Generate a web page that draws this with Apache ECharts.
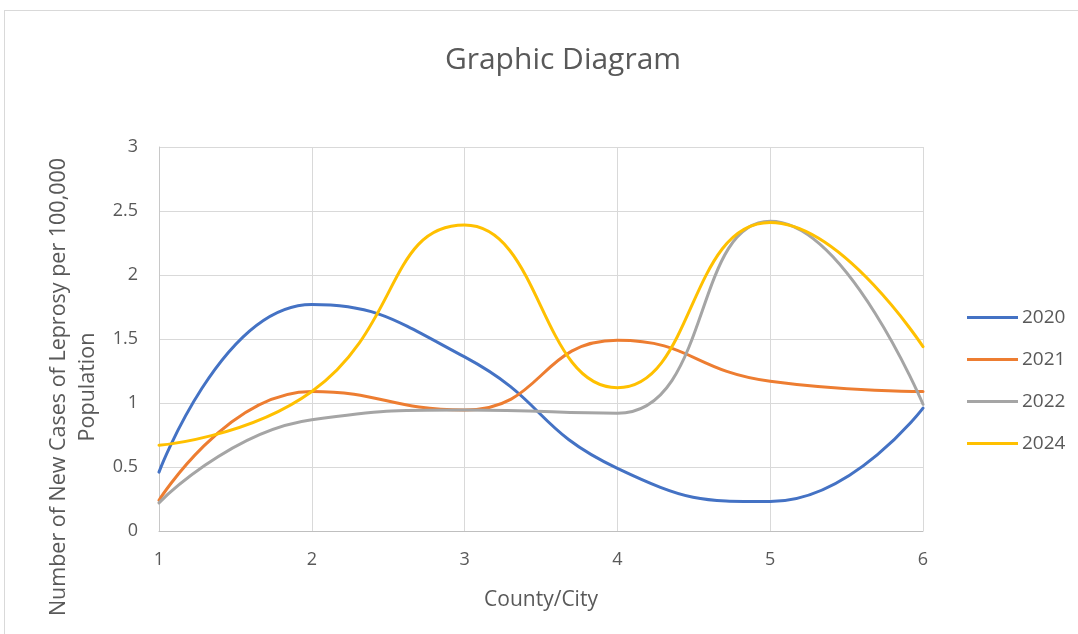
<!DOCTYPE html>
<html>
<head>
<meta charset="utf-8">
<script src="https://cdn.jsdelivr.net/npm/echarts@6/dist/echarts.min.js"></script>
<style>
html,body{margin:0;padding:0;background:#fff;overflow:hidden;}
#frame{position:absolute;left:4px;top:10px;width:1200px;height:800px;border:1px solid #d9d9d9;box-sizing:border-box;}
#chart{position:absolute;left:0;top:0;width:1078px;height:634px;}
</style>
</head>
<body>
<div id="frame"></div>
<div id="chart"></div>
<script>
const categories = ['1', '2', '3', '4', '5', '6'];
const seriesNames = ['2020', '2021', '2022', '2024'];
const s2020 = [0.46, 1.77, 1.36, 0.49, 0.23, 0.96];
const s2021 = [0.24, 1.09, 0.945, 1.49, 1.17, 1.09];
const s2022 = [0.22, 0.87, 0.945, 0.92, 2.42, 0.99];
const s2024 = [0.67, 1.09, 2.39, 1.12, 2.41, 1.44];
const yTicks = [0, 0.5, 1, 1.5, 2, 2.5, 3];
const colors = ['#4472C4', '#ED7D31', '#A5A5A5', '#FFC000'];
const values = [s2020, s2021, s2022, s2024];

const chart = echarts.init(document.getElementById('chart'), null, {renderer: 'canvas'});
const txt = '#595959';
chart.setOption({
  backgroundColor: 'transparent',
  animation: false,
  title: {
    text: 'Graphic Diagram',
    left: 558, top: 40, textAlign: 'center',
    textStyle: {fontFamily: 'Open Sans', fontWeight: 'normal', fontSize: 30, color: txt}
  },
  legend: {
    orient: 'vertical',
    left: 967, top: 308, padding: 0,
    itemWidth: 51, itemHeight: 3, itemGap: 23,
    icon: 'rect',
    textStyle: {fontFamily: 'Open Sans', fontSize: 19, color: txt, padding: [0,0,0,-1]},
    data: seriesNames
  },
  grid: {left: 159, right: 1078 - 923, top: 147, bottom: 634 - 531, containLabel: false},
  xAxis: {
    type: 'category',
    data: categories,
    boundaryGap: false,
    name: 'County/City',
    nameLocation: 'middle',
    nameGap: 59,
    nameTextStyle: {fontFamily: 'Open Sans', fontSize: 21, color: txt},
    axisLine: {lineStyle: {color: '#bfbfbf', width: 1}},
    axisTick: {show: false},
    axisLabel: {fontFamily: 'Open Sans', fontSize: 18, color: txt, margin: 20},
    splitLine: {show: true, lineStyle: {color: '#d9d9d9', width: 1}}
  },
  yAxis: {
    type: 'value',
    min: 0, max: 3, interval: 0.5,
    axisLine: {show: true, lineStyle: {color: '#c8c8c8', width: 1}},
    axisTick: {show: false},
    axisLabel: {fontFamily: 'Open Sans', fontSize: 18, color: txt, margin: 21,
      formatter: v => yTicks.includes(v) ? String(v) : ''},
    splitLine: {show: true, lineStyle: {color: '#d9d9d9', width: 1}}
  },
  graphic: [{
    type: 'text',
    x: 73, y: 387,
    rotation: Math.PI / 2,
    style: {
      text: 'Number of New Cases of Leprosy per 100,000\nPopulation',
      fontFamily: 'Open Sans', fontSize: 21.5, fill: txt,
      align: 'center', verticalAlign: 'middle', lineHeight: 29
    }
  }],
  series: seriesNames.map((n, i) => ({
    name: n,
    type: 'line',
    data: values[i],
    smooth: 0.5,
    symbol: 'none',
    lineStyle: {width: 3, color: colors[i], cap: 'round'},
    itemStyle: {color: colors[i]}
  }))
});
</script>
</body>
</html>
